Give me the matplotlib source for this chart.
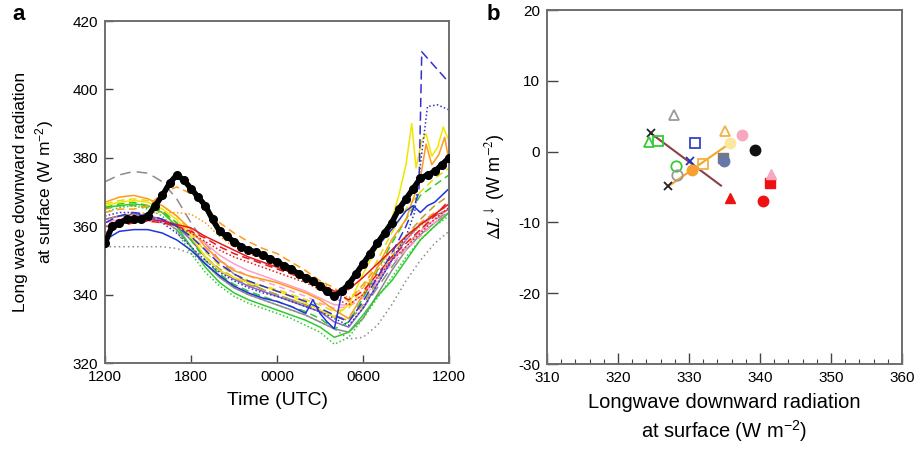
import matplotlib
matplotlib.use("Agg")
import matplotlib.pyplot as plt
import numpy as np

plt.rcParams['font.family'] = ['Liberation Sans', 'DejaVu Sans']
plt.rcParams['mathtext.fontset'] = 'custom'
plt.rcParams['mathtext.rm'] = 'Liberation Sans'
plt.rcParams['mathtext.it'] = 'Liberation Sans:italic'
plt.rcParams['axes.unicode_minus'] = False

# ---------------- Panel a data ----------------
hours = list(range(25))  # hours after 1200 UTC
time_ticks = [0, 6, 12, 18, 24]
time_labels = ["1200", "1800", "0000", "0600", "1200"]

obs_t = [i * 0.5 for i in range(49)]
obs_v = [355, 360, 361, 362, 362, 362, 363, 366, 369, 372.5, 375, 373.5, 371, 368.5,
         366, 362, 358.5, 357, 355.5, 354, 353, 352.5, 351.5, 350.5, 349.5, 348.5,
         347.5, 346, 345, 344, 342.5, 341, 339.5, 341, 343, 346, 349, 352, 355, 358,
         361, 365, 368, 371, 374, 375, 376, 378, 380]

gray_dash = [373, 375, 376, 375.5, 373, 368, 361, 355, 350, 346, 343.5, 341.5, 340,
             338.5, 337, 335, 333.5, 333, 336, 342, 348, 354, 359, 362, 364]
gray_dot = [354, 354, 354, 354, 354, 353.5, 352, 349, 345, 342, 340, 338.5, 337,
            335.5, 334, 332, 330, 327, 327.5, 331, 337, 344, 350, 355, 358.5]
gray_solid = [362, 363, 363.5, 363, 362, 359, 354, 349, 345, 342, 340, 338.5, 337,
              335.5, 334, 332, 330, 329, 333, 340, 347, 353, 357.5, 361, 364]
orange_dash = [364, 365, 365, 366, 369.5, 371.5, 369.5, 366, 361, 358, 355.5, 353.5,
               352, 349.5, 347, 344, 342, 338, 343, 348, 353, 357, 361, 364, 366]
orange_dot = [362, 363, 363.5, 364, 364, 364, 363.5, 361, 357, 354, 352, 350.5, 349,
              347.5, 346, 344, 341, 339, 342, 347, 352, 356, 360, 363, 365]
red_solid = [357, 360.5, 361.5, 362, 361.5, 360.5, 359.5, 357, 355, 353, 351, 349.5,
             348, 346.5, 345, 343, 341, 341.5, 345, 349, 353, 357, 360.5, 363.5, 366.5]
red_dash = [358, 360, 361, 361.5, 361, 360, 358.5, 356.5, 354, 352, 350.5, 349, 347.5,
            346, 344.5, 343, 340.5, 338.5, 341, 346, 351, 355, 359, 363, 367.5]
red_dot = [360, 361, 362, 362, 361.5, 360, 358, 355.5, 353, 351, 349.5, 348, 346.5,
           345, 343.5, 341.5, 339, 337, 340, 345, 350, 354, 358, 362, 365.5]
green_solid = [365.5, 366, 366.5, 366, 364, 360, 354, 348, 343.5, 340.5, 338.5, 337,
               335.5, 334, 332.5, 330.5, 327.5, 329, 334, 339.5, 344, 350, 356, 360, 364]
green_dot = [364, 365.5, 366, 365, 363, 358.5, 352, 346.5, 342.5, 339.5, 337.5, 336,
             334.5, 333, 331, 329, 325.5, 327.5, 333, 339, 345, 351, 356, 360, 363]
green_dash = [365.5, 366.5, 367, 366, 364.5, 361, 356, 350, 346, 343, 341, 339.5, 338,
              336.5, 335, 333, 330, 332, 339, 347, 355, 362, 369, 372, 375]
pink_solid = [361, 362, 362.5, 362.5, 362, 360.5, 358, 355, 351.5, 349, 347, 345.5,
              344, 342.5, 341, 339, 337, 337, 340, 345, 350, 354, 358.5, 362, 365]
pink_dash = [360, 361, 361.5, 361.5, 361, 359.5, 357, 353.5, 350, 347.5, 345.5, 344,
             342.5, 341, 339.5, 337.5, 336, 336.5, 339, 344, 349, 353, 357, 361, 364]
purple_solid = [362, 363, 363.5, 363, 362, 360, 356, 351, 347, 344.5, 342.5, 341,
                339.5, 338, 336.5, 335, 332, 330.5, 336, 343, 350, 356, 360.5, 363, 365]
olive_dash = [365, 366, 366, 365.5, 364, 361, 356, 351, 347.5, 345, 343, 341.5, 340,
              338.5, 337, 335.5, 333.5, 332.5, 337, 344, 351, 357, 362, 366, 369]
yellow_dash = [366.5, 367.5, 368, 367.5, 366, 363, 358, 352.5, 348.5, 346, 344, 342.5,
               341.5, 340, 338.5, 337, 335, 336, 342, 350, 358, 365, 370, 374, 377]

blue_solid_t = [0, 1, 2, 3, 4, 5, 6, 7, 8, 9, 10, 11, 12, 13, 14, 14.5, 15, 15.5, 16,
                16.5, 17, 18, 19, 20, 21, 21.5, 22, 22.5, 23, 24]
blue_solid_v = [356, 358.5, 359, 359, 358, 356, 353, 349, 345.5, 342.5, 340.5, 339,
                338, 336.5, 334.5, 338.5, 334.5, 332, 330, 340, 344, 349, 354, 359,
                364.5, 366, 364, 366, 367, 371]
blue_dash_t = list(range(22)) + [21.5, 21.9, 22.1, 24]
blue_dash_v = [361, 363, 364, 363.5, 362, 360, 357, 353, 349, 346, 344, 342.5, 341,
               339.5, 338, 336, 334, 332, 338, 345, 352, 360, 365, 370, 411, 402]
blue_dot_t = list(range(22)) + [21.6, 22.5, 23.2, 24]
blue_dot_v = [363, 364, 364, 363, 361, 358, 354, 350, 346.5, 344, 342, 340.5, 339.5,
              338, 336.5, 335, 333, 331, 336, 343, 350, 357, 364, 395, 395.5, 394]
yellow_t = list(range(21)) + [20.5, 21, 21.4, 21.7, 22.1, 22.4, 22.8, 23.2, 23.6, 24]
yellow_v = [366, 367, 367.5, 367, 365, 362, 357, 351, 347, 345, 343.5, 342.5, 341,
            339.5, 337.5, 335.5, 333.5, 337, 346, 354, 362, 369, 378, 390, 377, 385,
            387, 380.5, 383, 389, 385]
orange_t = list(range(22)) + [21.5, 22, 22.4, 22.8, 23.3, 23.7, 24]
orange_v = [367, 368.5, 369, 368, 366, 363, 359, 354, 350, 347, 345.5, 344.5, 343.5,
            342, 340.5, 338.5, 335.5, 333, 340, 348, 356, 362, 368, 374, 384, 378,
            381, 386, 379]

# ---------------- Panel b data ----------------
lw_x = [327.9, 324.6, 324.3, 325.7, 330.9, 335.0, 337.4, 339.3, 335.8, 334.8, 334.9,
        332.0, 330.2, 328.2, 328.3, 330.4, 327.1, 335.8, 340.4, 341.4, 341.6]
dl_y = [5.2, 2.6, 1.4, 1.5, 1.2, 2.9, 2.3, 0.2, 1.2, -0.9, -1.3,
        -1.7, -1.3, -2.1, -3.3, -2.6, -4.9, -6.5, -7.0, -4.5, -3.1]
pt_marker = ['^', 'x', '^', 's', 's', '^', 'o', 'o', 'o', 's', 'o',
             's', 'x', 'o', 'o', 'o', 'x', '^', 'o', 's', '^']
pt_color = ['#9a9a9a', '#222222', '#33cc33', '#33cc33', '#3344cc', '#f5b041', '#f7a8c0',
            '#111111', '#fbe7a0', '#777777', '#6677aa',
            '#f5b041', '#2233bb', '#33cc33', '#9a9a9a', '#f5a030', '#222222',
            '#ee1111', '#ee1111', '#ee1111', '#f7a8c0']
pt_filled = [False, True, False, False, False, False, True, True, True, True, True,
             False, True, False, False, True, True, True, True, True, True]

fit1_x = [324.6, 334.5]
fit1_y = [2.6, -4.8]
fit2_x = [327.1, 335.8]
fit2_y = [-4.9, 1.2]

# ---------------- Figure ----------------
fig = plt.figure(figsize=(9.21, 4.61), dpi=100)
axa = fig.add_axes([105 / 921, 1 - 363 / 461, 344 / 921, 342 / 461])
axb = fig.add_axes([547 / 921, 1 - 364 / 461, 355 / 921, 354 / 461])

spine_col = '#6e6e6e'
for ax in (axa, axb):
    for s in ax.spines.values():
        s.set_color(spine_col)
        s.set_linewidth(1.4)
    ax.tick_params(direction='in', top=False, right=False, length=6, width=1.0,
                   color='#444444', labelsize=11, pad=5)

lw = 1.1
series = [
    (hours, gray_dash, '#8c8c8c', (0, (7, 4))),
    (hours, gray_solid, '#8c8c8c', '-'),
    (hours, olive_dash, '#b5a62b', (0, (5, 3))),
    (hours, pink_solid, '#ff9ec8', '-'),
    (hours, pink_dash, '#ff9ec8', (0, (4, 3))),
    (hours, purple_solid, '#9060c0', '-'),
    (hours, yellow_dash, '#e6dc00', (0, (5, 3))),
    (hours, green_dash, '#2ecc2e', (0, (5, 3))),
    (hours, green_solid, '#2ecc2e', '-'),
    (hours, green_dot, '#2ecc2e', (0, (1, 1.5))),
    (hours, gray_dot, '#8c8c8c', (0, (1, 2))),
    (hours, orange_dot, '#ff9a1a', (0, (1, 1.5))),
    (hours, orange_dash, '#ff9a1a', (0, (5, 3))),
    (yellow_t, yellow_v, '#f2e600', '-'),
    (orange_t, orange_v, '#ff9a1a', '-'),
    (hours, red_dot, '#e8191e', (0, (1, 1.5))),
    (hours, red_dash, '#e8191e', (0, (5, 3))),
    (hours, red_solid, '#e8191e', '-'),
    (blue_dot_t, blue_dot_v, '#3333cc', (0, (1, 1.5))),
    (blue_dash_t, blue_dash_v, '#3333cc', (0, (6, 3))),
    (blue_solid_t, blue_solid_v, '#2233dd', '-'),
]
for t, v, c, ls in series:
    axa.plot(t, v, color=c, linestyle=ls, linewidth=lw)

axa.plot(obs_t, obs_v, color='black', linewidth=4.0, zorder=5, solid_capstyle='round')
axa.plot(obs_t, obs_v, 'o', color='black', markersize=5.5, zorder=6)

axa.set_xlim(0, 24)
axa.set_ylim(320, 420)
axa.set_xticks(time_ticks)
axa.set_xticklabels(time_labels)
axa.set_yticks([320, 340, 360, 380, 400, 420])
axa.set_xlabel("Time (UTC)", fontsize=14, labelpad=6)
axa.set_ylabel("Long wave downward radiation\nat surface (W m$^{-2}$)", fontsize=12.5,
               labelpad=12, linespacing=1.3)
fig.text(12 / 921, 1 - 20 / 461, "a", fontsize=16, fontweight='bold')

# ---------------- Panel b ----------------
axb.plot(fit1_x, fit1_y, color='#8b4046', linewidth=1.5, zorder=2)
axb.plot(fit2_x, fit2_y, color='#f5a623', linewidth=1.5, zorder=2)
for x, y, m, c, f in zip(lw_x, dl_y, pt_marker, pt_color, pt_filled):
    if m == 'x':
        axb.plot(x, y, marker='x', color=c, markersize=6, mew=1.3, linestyle='none', zorder=3)
    elif f:
        axb.plot(x, y, marker=m, color=c, markersize=7.5, linestyle='none', zorder=3)
    else:
        axb.plot(x, y, marker=m, markerfacecolor='none', markeredgecolor=c,
                 markersize=7.5, mew=1.3, linestyle='none', zorder=3)

axb.set_xlim(310, 360)
axb.set_ylim(-30, 20)
axb.set_xticks([310, 320, 330, 340, 350, 360])
axb.set_xticks(np.arange(310, 361, 2), minor=True)
axb.set_yticks([-30, -20, -10, 0, 10, 20])
axb.tick_params(which='major', length=8)
axb.tick_params(which='minor', direction='in', length=3.5, width=0.8, color='#444444',
                top=False, right=False)
axb.set_xlabel("Longwave downward radiation\nat surface (W m$^{-2}$)", fontsize=14.5,
               labelpad=6, linespacing=1.3)
axb.set_ylabel(r"$\Delta L^{\downarrow}$ (W m$^{-2}$)", fontsize=13, labelpad=8,
               math_fontfamily='stix')
fig.text(487 / 921, 1 - 20 / 461, "b", fontsize=16, fontweight='bold')

fig.savefig("out.png", dpi=100)
